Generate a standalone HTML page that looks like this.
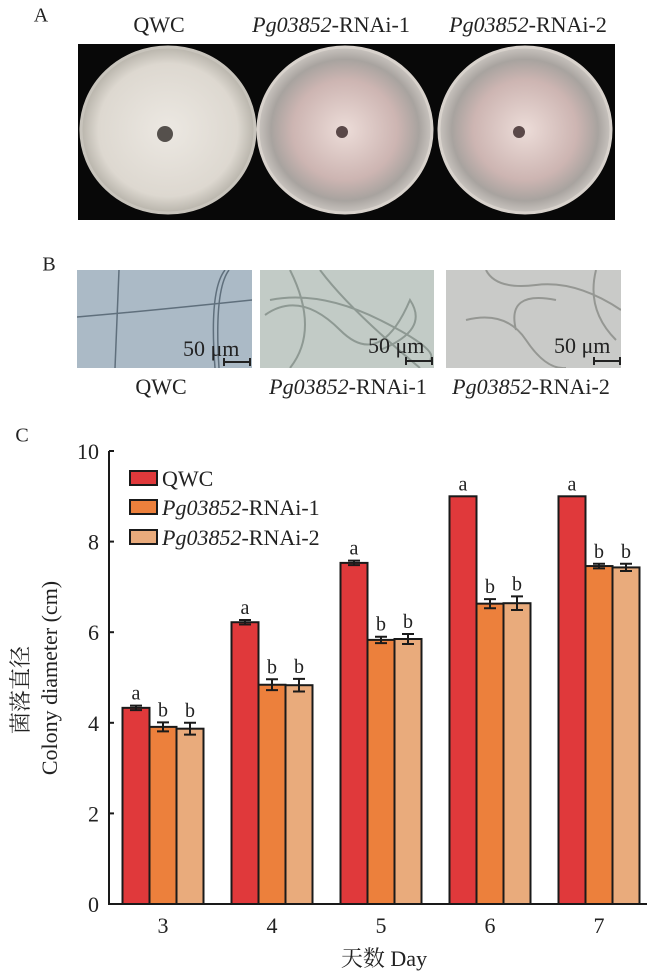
<!DOCTYPE html>
<html><head><meta charset="utf-8">
<style>
body{margin:0;background:#fff;width:662px;height:972px;overflow:hidden;position:relative;font-family:"Liberation Serif","Noto Serif CJK SC",serif;color:#222}
.abs{position:absolute}
.lbl{position:absolute;font-size:22px;white-space:nowrap;transform:translate(-50%,-50%)}
i{font-style:italic}
</style></head><body>
<div class="lbl" style="left:41px;top:16px;font-size:20px">A</div>
<div class="lbl" style="left:159px;top:25px">QWC</div>
<div class="lbl" style="left:331px;top:25px"><i>Pg03852</i>-RNAi-1</div>
<div class="lbl" style="left:528px;top:25px"><i>Pg03852</i>-RNAi-2</div>

<svg class="abs" style="left:78px;top:44px" width="537" height="176">
<defs>
<radialGradient id="g1" cx="50%" cy="50%" r="50%"><stop offset="0" stop-color="#ece8e2"/><stop offset="0.8" stop-color="#ddd8d0"/><stop offset="1" stop-color="#b8b4ab"/></radialGradient>
<radialGradient id="g2" cx="50%" cy="50%" r="50%"><stop offset="0" stop-color="#ecdcd8"/><stop offset="0.6" stop-color="#cdb5b2"/><stop offset="0.85" stop-color="#a8a39f"/><stop offset="1" stop-color="#c9c4bf"/></radialGradient>
</defs>
<rect width="537" height="176" fill="#080808"/>
<ellipse cx="90" cy="86" rx="87" ry="83" fill="url(#g1)" stroke="#c8c4bc" stroke-width="3"/>
<circle cx="87" cy="90" r="8" fill="#55504c"/>
<ellipse cx="267" cy="86" rx="87" ry="83" fill="url(#g2)" stroke="#d8d2cc" stroke-width="3"/>
<circle cx="264" cy="88" r="6" fill="#5a4848"/>
<ellipse cx="447" cy="86" rx="86" ry="83" fill="url(#g2)" stroke="#d8d2cc" stroke-width="3"/>
<circle cx="441" cy="88" r="6" fill="#5a4848"/>
</svg>

<div class="lbl" style="left:49px;top:265px;font-size:20px">B</div>
<svg class="abs" style="left:77px;top:270px" width="175" height="98">
<rect width="175" height="98" fill="#abbac6"/>
<path d="M42 0 L38 98 M0 47 Q60 42 175 30 M148 0 Q132 20 138 98 M152 0 Q137 20 142 98" stroke="#5f6f7c" stroke-width="1.5" fill="none"/>
<text x="106" y="86" font-size="22" fill="#222" font-family="Liberation Serif">50 μm</text>
<path d="M147 92 H173 M147 88 V96 M173 88 V96" stroke="#222" stroke-width="2"/>
</svg>
<svg class="abs" style="left:260px;top:270px" width="174" height="98">
<rect width="174" height="98" fill="#c2cbc6"/>
<path d="M10 30 Q60 20 120 50 T170 90 M5 45 Q40 20 80 60 T150 30 Q170 60 120 80 M30 0 Q60 60 30 98 M60 0 Q90 40 160 98" stroke="#8e9993" stroke-width="2" fill="none"/>
<text x="108" y="83" font-size="22" fill="#222" font-family="Liberation Serif">50 μm</text>
<path d="M146 91 H172 M146 87 V95 M172 87 V95" stroke="#222" stroke-width="2"/>
</svg>
<svg class="abs" style="left:446px;top:270px" width="175" height="98">
<rect width="175" height="98" fill="#c9cac8"/>
<path d="M40 0 Q50 20 90 15 T175 40 M20 50 Q60 40 80 70 T120 98 M70 60 Q60 20 110 30 M150 0 Q140 40 170 70" stroke="#959793" stroke-width="2" fill="none"/>
<text x="108" y="83" font-size="22" fill="#222" font-family="Liberation Serif">50 μm</text>
<path d="M148 91 H174 M148 87 V95 M174 87 V95" stroke="#222" stroke-width="2"/>
</svg>
<div class="lbl" style="left:161px;top:387px">QWC</div>
<div class="lbl" style="left:348px;top:387px"><i>Pg03852</i>-RNAi-1</div>
<div class="lbl" style="left:531px;top:387px"><i>Pg03852</i>-RNAi-2</div>

<div class="lbl" style="left:22px;top:436px;font-size:20px">C</div>

<svg id="chart" class="abs" style="left:0;top:0" width="662" height="972" font-family="Liberation Serif, Noto Serif CJK SC, serif"></svg>
<script>
const categories = ["3","4","5","6","7"];
const seriesNames = ["QWC","Pg03852-RNAi-1","Pg03852-RNAi-2"];
const qwc = [4.33, 6.22, 7.53, 9.0, 9.0];
const rnai1 = [3.91, 4.84, 5.83, 6.63, 7.46];
const rnai2 = [3.87, 4.83, 5.85, 6.64, 7.43];
const errQwc = [0.05, 0.05, 0.05, 0, 0];
const errR1 = [0.1, 0.12, 0.07, 0.1, 0.05];
const errR2 = [0.13, 0.14, 0.11, 0.15, 0.08];
const letQwc = ["a","a","a","a","a"];
const letR1 = ["b","b","b","b","b"];
const letR2 = ["b","b","b","b","b"];
const yTicks = [0,2,4,6,8,10];

const NS="http://www.w3.org/2000/svg";
const svg=document.getElementById('chart');
const x0=109, y0=904, pxPerUnit=45.3, groupStart=163, groupStep=109, barW=27;
const colors=["#e0393b","#ec803c","#e9ab7c"];
const yPos=v=>y0-v*pxPerUnit;
const xCenter=i=>groupStart+i*groupStep;
function mk(tag,attrs,parent){const e=document.createElementNS(NS,tag);for(const k in attrs)e.setAttribute(k,attrs[k]);(parent||svg).appendChild(e);return e;}

const vals=[qwc,rnai1,rnai2], errs=[errQwc,errR1,errR2], lets=[letQwc,letR1,letR2];
categories.forEach((c,i)=>{
  for(let s=0;s<3;s++){
    const v=vals[s][i], cx=xCenter(i)+(s-1)*barW;
    const r=mk('rect',{x:cx-barW/2,y:yPos(v),width:barW,height:y0-yPos(v),fill:colors[s],stroke:'#1a1a1a','stroke-width':2});
    
    
    const e=errs[s][i];
    if(e>0){
      const g=mk('path',{d:`M${cx} ${yPos(v+e)} V${yPos(v-e)} M${cx-6} ${yPos(v+e)} H${cx+6} M${cx-6} ${yPos(v-e)} H${cx+6}`,stroke:'#1a1a1a','stroke-width':2,fill:'none'});
      
      
    }
    const t=mk('text',{x:cx,y:yPos(v+e)-6,'text-anchor':'middle','font-size':20,fill:'#222'});
    t.textContent=lets[s][i];
    
    
  }
  const tl=mk('text',{x:xCenter(i),y:y0+29,'text-anchor':'middle','font-size':22,fill:'#222'});
  tl.textContent=c;
  
  
});
const ax=mk('path',{d:`M${x0} ${yPos(10)} V${y0} H647`,stroke:'#1a1a1a','stroke-width':2,fill:'none'});


yTicks.forEach(t=>{
  mk('path',{d:`M${x0} ${yPos(t)} H${x0+5}`,stroke:'#1a1a1a','stroke-width':2});
  const l=mk('text',{x:x0-10,y:yPos(t)+8,'text-anchor':'end','font-size':22,fill:'#222'});
  l.textContent=t;
  
  
});
const xt=mk('text',{x:384,y:966,'text-anchor':'middle','font-size':22,fill:'#222'});
xt.textContent='天数 Day';


const yt=mk('text',{transform:'translate(28,690) rotate(-90)','text-anchor':'middle','font-size':22,fill:'#222'});
yt.textContent='菌落直径';


const yt2=mk('text',{transform:'translate(57,678) rotate(-90)','text-anchor':'middle','font-size':22,fill:'#222'});
yt2.textContent='Colony diameter (cm)';


const legY=[478,507,537];
seriesNames.forEach((n,s)=>{
  const b=mk('rect',{x:130,y:legY[s]-7,width:27,height:14,fill:colors[s],stroke:'#1a1a1a','stroke-width':2});
  
  
  const t=mk('text',{x:162,y:legY[s]+8,'font-size':22,fill:'#222'});
  
  
  if(s===0){t.textContent=n;}else{
    const a=mk('tspan',{'font-style':'italic'},t);a.textContent='Pg03852';
    const bb=mk('tspan',{},t);bb.textContent='-RNAi-'+s;
  }
});
</script>
</body></html>
